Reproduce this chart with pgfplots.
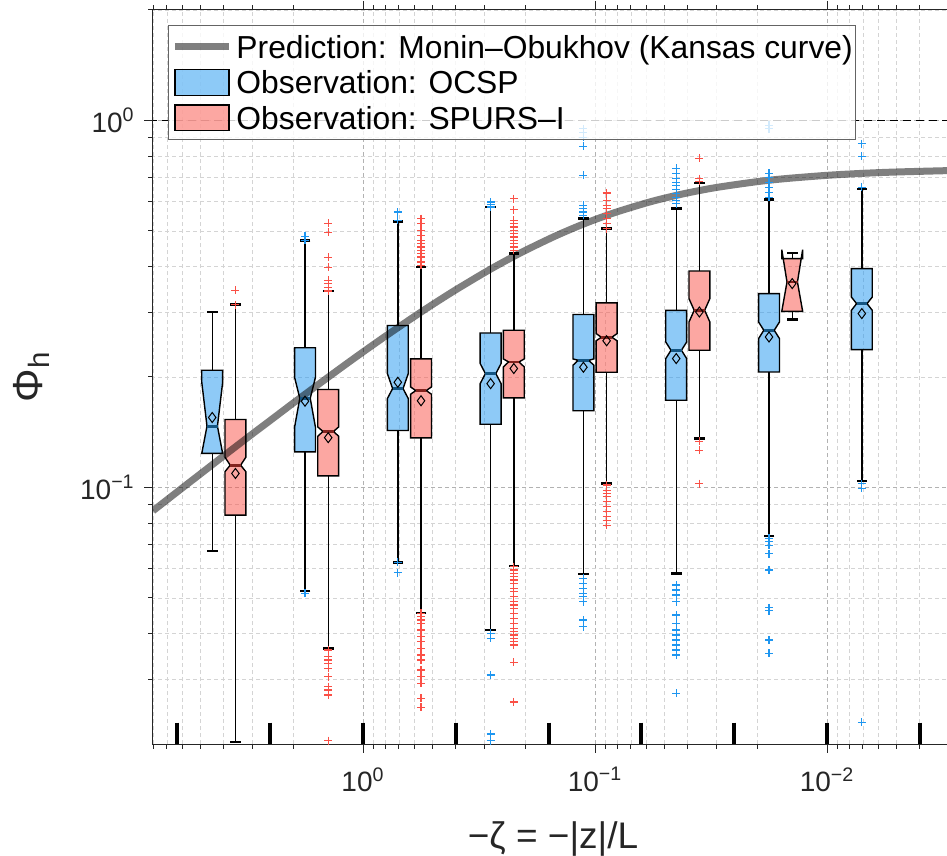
\documentclass[border=0pt]{standalone}
\usepackage{fontspec}
\setmainfont{Liberation Sans}
\usepackage{pgfplots}
\pgfplotsset{compat=1.18}
\usetikzlibrary{plotmarks}
\definecolor{ocsp}{RGB}{30,150,240}
\definecolor{spurs}{RGB}{250,80,70}
\definecolor{ocspdark}{RGB}{20,85,130}
\definecolor{spursdark}{RGB}{130,35,30}
\definecolor{axgray}{RGB}{38,38,38}
\definecolor{legedge}{RGB}{100,100,100}
\pgfplotsset{
  whisk/.style={black, line width=0.7pt, forget plot},
  boxO/.style={draw=black, line width=0.7pt, fill=ocsp, fill opacity=0.5, forget plot},
  boxS/.style={draw=black, line width=0.7pt, fill=spurs, fill opacity=0.5, forget plot},
}
\begin{document}
\begin{tikzpicture}
\useasboundingbox (-76.5pt,-56pt) rectangle (397pt,372pt);
\begin{axis}[
  at={(0,0)}, anchor=south west,
  scale only axis, width=400pt, height=367pt,
  xmode=log, ymode=log, x dir=reverse,
  xmin=0.002864, xmax=8.04, ymin=0.02, ymax=2,
  axis line style={draw=axgray, line width=0.5pt},
  every tick/.style={axgray, line width=0.5pt},
  tick align=outside,
  major tick length=4.5pt, minor tick length=2.5pt,
  xtick={0.01,0.1,1},
  xticklabels={10\textsuperscript{−2},10\textsuperscript{−1},10\textsuperscript{0}},
  ytick={0.1,1},
  yticklabels={10\textsuperscript{−1},10\textsuperscript{0}},
  minor xtick={0.003,0.004,0.005,0.006,0.007,0.008,0.009,0.02,0.03,0.04,0.05,0.06,0.07,0.08,0.09,0.2,0.3,0.4,0.5,0.6,0.7,0.8,0.9,2,3,4,5,6,7,8},
  minor ytick={0.03,0.04,0.05,0.06,0.07,0.08,0.09,0.2,0.3,0.4,0.5,0.6,0.7,0.8,0.9,2},
  grid=both,
  major grid style={draw=black!30, dash pattern=on 2pt off 1.5pt, line width=0.4pt},
  minor grid style={draw=black!17, dash pattern=on 2pt off 1.5pt, line width=0.4pt},
  tick label style={font=\fontsize{14}{16}\selectfont, text=axgray, inner sep=0pt},
  xticklabel shift=7pt, yticklabel shift=4.5pt,
  xlabel={−ζ = −|z|/L},
  ylabel={Φ\textsubscript{h}},
  xlabel style={font=\fontsize{18.5}{20}\selectfont, text=axgray, at={(axis description cs:0.5,-0.1417)}, anchor=base},
  ylabel style={font=\fontsize{21}{24}\selectfont, text=axgray, at={(axis description cs:-0.1525,0.5)}, anchor=center},
  legend style={
    at={(axis description cs:0.01875,0.97956)}, anchor=north west,
    draw=legedge, line width=0.5pt,
    fill=white, fill opacity=0.8, draw opacity=1, text opacity=1,
    inner xsep=1.5pt, inner ysep=1.9pt,
    row sep=0.25pt, column sep=2pt,
    font=\fontsize{15.9}{18}\selectfont,
    nodes={inner sep=0pt, text height=14.5pt, text depth=3pt},
  },
  legend cell align=left,
]
% reference line at 1
\addplot[black, line width=0.7pt, dash pattern=on 4pt off 2.5pt, forget plot] coordinates {(0.002,1) (10,1)};

% whiskers OCSP (lower: cap to Q1, upper: Q3 to cap)
\addplot[whisk] coordinates {(4.4668,0.06720) (4.4668,0.1238)};
\addplot[whisk] coordinates {(4.4668,0.2086) (4.4668,0.3007)};
\addplot[whisk] coordinates {(1.7783,0.05230) (1.7783,0.1250)};
\addplot[whisk] coordinates {(1.7783,0.2402) (1.7783,0.4713)};
\addplot[whisk] coordinates {(0.70795,0.06249) (0.70795,0.1430)};
\addplot[whisk] coordinates {(0.70795,0.2763) (0.70795,0.5309)};
\addplot[whisk] coordinates {(0.28184,0.04088) (0.28184,0.1487)};
\addplot[whisk] coordinates {(0.28184,0.2636) (0.28184,0.5807)};
\addplot[whisk] coordinates {(0.112202,0.05807) (0.112202,0.1618)};
\addplot[whisk] coordinates {(0.112202,0.2960) (0.112202,0.5400)};
\addplot[whisk] coordinates {(0.044668,0.05833) (0.044668,0.1729)};
\addplot[whisk] coordinates {(0.044668,0.3039) (0.044668,0.5749)};
\addplot[whisk] coordinates {(0.017783,0.07383) (0.017783,0.2064)};
\addplot[whisk] coordinates {(0.017783,0.3374) (0.017783,0.6083)};
\addplot[whisk] coordinates {(0.0070795,0.1040) (0.0070795,0.2375)};
\addplot[whisk] coordinates {(0.0070795,0.3947) (0.0070795,0.6517)};
% whiskers SPURS
\addplot[whisk] coordinates {(3.5481,0.02022) (3.5481,0.08406)};
\addplot[whisk] coordinates {(3.5481,0.1532) (3.5481,0.3150)};
\addplot[whisk] coordinates {(1.4125,0.03645) (1.4125,0.1075)};
\addplot[whisk] coordinates {(1.4125,0.1849) (1.4125,0.3430)};
\addplot[whisk] coordinates {(0.56234,0.04556) (0.56234,0.1365)};
\addplot[whisk] coordinates {(0.56234,0.2240) (0.56234,0.3987)};
\addplot[whisk] coordinates {(0.22387,0.06117) (0.22387,0.1754)};
\addplot[whisk] coordinates {(0.22387,0.2681) (0.22387,0.4336)};
\addplot[whisk] coordinates {(0.089125,0.1025) (0.089125,0.2060)};
\addplot[whisk] coordinates {(0.089125,0.3185) (0.089125,0.5072)};
\addplot[whisk] coordinates {(0.035481,0.1360) (0.035481,0.2365)};
\addplot[whisk] coordinates {(0.035481,0.3888) (0.035481,0.6767)};
\addplot[whisk] coordinates {(0.014125,0.2867) (0.014125,0.3020)};
\addplot[whisk] coordinates {(0.014125,0.4202) (0.014125,0.4352)};

% notched boxes OCSP
\addplot[boxO] coordinates {(4.9545,0.1238) (4.7044,0.1469) (4.9545,0.1935) (4.9545,0.2086) (4.0272,0.2086) (4.0272,0.1935) (4.2413,0.1469) (4.0272,0.1238)} --cycle;
\addplot[boxO] coordinates {(1.9724,0.1250) (1.9724,0.1459) (1.8728,0.1750) (1.9724,0.1997) (1.9724,0.2402) (1.6032,0.2402) (1.6032,0.1997) (1.6885,0.1750) (1.6032,0.1459) (1.6032,0.1250)} --cycle;
\addplot[boxO] coordinates {(0.78523,0.1430) (0.78523,0.1747) (0.74559,0.1860) (0.78523,0.2043) (0.78523,0.2763) (0.63826,0.2763) (0.63826,0.2043) (0.67220,0.1860) (0.63826,0.1747) (0.63826,0.1430)} --cycle;
\addplot[boxO] coordinates {(0.31261,0.1487) (0.31261,0.1919) (0.29683,0.2043) (0.31261,0.2176) (0.31261,0.2636) (0.25410,0.2636) (0.25410,0.2176) (0.26761,0.2043) (0.25410,0.1919) (0.25410,0.1487)} --cycle;
\addplot[boxO] coordinates {(0.124451,0.1618) (0.124451,0.2153) (0.118168,0.2221) (0.124451,0.2240) (0.124451,0.2960) (0.101158,0.2960) (0.101158,0.2240) (0.106537,0.2221) (0.101158,0.2153) (0.101158,0.1618)} --cycle;
\addplot[boxO] coordinates {(0.049545,0.1729) (0.049545,0.2245) (0.047044,0.2365) (0.049545,0.2491) (0.049545,0.3039) (0.040272,0.3039) (0.040272,0.2491) (0.042413,0.2365) (0.040272,0.2245) (0.040272,0.1729)} --cycle;
\addplot[boxO] coordinates {(0.019724,0.2064) (0.019724,0.2545) (0.018728,0.2681) (0.019724,0.2824) (0.019724,0.3374) (0.016032,0.3374) (0.016032,0.2824) (0.016885,0.2681) (0.016032,0.2545) (0.016032,0.2064)} --cycle;
\addplot[boxO] coordinates {(0.0078523,0.2375) (0.0078523,0.3039) (0.0074559,0.3169) (0.0078523,0.3303) (0.0078523,0.3947) (0.0063826,0.3947) (0.0063826,0.3303) (0.0067220,0.3169) (0.0063826,0.3039) (0.0063826,0.2375)} --cycle;
% notched boxes SPURS
\addplot[boxS] coordinates {(3.9355,0.08406) (3.9355,0.1104) (3.7368,0.1150) (3.9355,0.1209) (3.9355,0.1532) (3.1989,0.1532) (3.1989,0.1209) (3.3690,0.1150) (3.1989,0.1104) (3.1989,0.08406)} --cycle;
\addplot[boxS] coordinates {(1.5667,0.1075) (1.5667,0.1379) (1.4876,0.1421) (1.5667,0.1462) (1.5667,0.1849) (1.2735,0.1849) (1.2735,0.1462) (1.3412,0.1421) (1.2735,0.1379) (1.2735,0.1075)} --cycle;
\addplot[boxS] coordinates {(0.62373,0.1365) (0.62373,0.1795) (0.59224,0.1837) (0.62373,0.1879) (0.62373,0.2240) (0.50699,0.2240) (0.50699,0.1879) (0.53395,0.1837) (0.50699,0.1795) (0.50699,0.1365)} --cycle;
\addplot[boxS] coordinates {(0.24831,0.1754) (0.24831,0.2130) (0.23578,0.2198) (0.24831,0.2240) (0.24831,0.2681) (0.20184,0.2681) (0.20184,0.2240) (0.21257,0.2198) (0.20184,0.2130) (0.20184,0.1754)} --cycle;
\addplot[boxS] coordinates {(0.098855,0.2060) (0.098855,0.2510) (0.093864,0.2566) (0.098855,0.2626) (0.098855,0.3185) (0.080353,0.3185) (0.080353,0.2626) (0.084625,0.2566) (0.080353,0.2510) (0.080353,0.2060)} --cycle;
\addplot[boxS] coordinates {(0.039355,0.2365) (0.039355,0.2824) (0.037368,0.3039) (0.039355,0.3270) (0.039355,0.3888) (0.031989,0.3888) (0.031989,0.3270) (0.033690,0.3039) (0.031989,0.2824) (0.031989,0.2365)} --cycle;
\addplot[boxS] coordinates {(0.015667,0.3020) (0.014876,0.3629) (0.015667,0.4446) (0.015667,0.4202) (0.012735,0.4202) (0.012735,0.4446) (0.013412,0.3629) (0.012735,0.3020)} --cycle;

% medians
\addplot[only marks, mark=-, mark size=2.65pt, mark options={draw=ocspdark, line width=1.4pt}, forget plot] coordinates {(4.4668,0.1469) (1.7783,0.1750) (0.70795,0.1860) (0.28184,0.2043) (0.112202,0.2221) (0.044668,0.2365) (0.017783,0.2681) (0.0070795,0.3169)};
\addplot[only marks, mark=-, mark size=2.65pt, mark options={draw=spursdark, line width=1.4pt}, forget plot] coordinates {(3.5481,0.1150) (1.4125,0.1421) (0.56234,0.1837) (0.22387,0.2198) (0.089125,0.2566) (0.035481,0.3039) (0.014125,0.3629)};

% whisker caps
\addplot[only marks, mark=-, mark size=2.65pt, mark options={draw=black, line width=1.2pt}, forget plot] coordinates {
(4.4668,0.06720) (4.4668,0.3007) (1.7783,0.05230) (1.7783,0.4713) (0.70795,0.06249) (0.70795,0.5309) (0.28184,0.04088) (0.28184,0.5807)
(0.112202,0.05807) (0.112202,0.5400) (0.044668,0.05833) (0.044668,0.5749) (0.017783,0.07383) (0.017783,0.6083) (0.0070795,0.1040) (0.0070795,0.6517)
(3.5481,0.02022) (3.5481,0.3150) (1.4125,0.03645) (1.4125,0.3430) (0.56234,0.04556) (0.56234,0.3987) (0.22387,0.06117) (0.22387,0.4336)
(0.089125,0.1025) (0.089125,0.5072) (0.035481,0.1360) (0.035481,0.6767) (0.014125,0.2867) (0.014125,0.4352)};

% means
\addplot[only marks, mark=diamond, mark size=2.5pt, mark options={draw=black, line width=0.5pt, fill=none}, forget plot] coordinates {
(4.4668,0.1551) (1.7783,0.1718) (0.70795,0.1935) (0.28184,0.1919) (0.112202,0.2126) (0.044668,0.2245) (0.017783,0.2570) (0.0070795,0.2977)
(3.5481,0.1092) (1.4125,0.1367) (0.56234,0.1723) (0.22387,0.2109) (0.089125,0.2510) (0.035481,0.3007) (0.014125,0.3593)};

% outliers OCSP
\addplot[only marks, mark=+, mark size=2pt, mark options={draw=ocsp, line width=0.6pt}, forget plot] coordinates {
(1.7783,0.4833) (1.7783,0.4713) (1.7783,0.05145)
(0.70795,0.5628) (0.70795,0.5343) (0.70795,0.0625) (0.70795,0.05855)
(0.28184,0.5992) (0.28184,0.5906) (0.28184,0.5807) (0.28184,0.04004) (0.28184,0.03881) (0.28184,0.03083) (0.28184,0.02130) (0.28184,0.02042)
(0.112202,0.9493) (0.112202,0.9293) (0.112202,0.9007) (0.112202,0.8512) (0.112202,0.7084) (0.112202,0.5869) (0.112202,0.5749) (0.112202,0.5628) (0.112202,0.5513)
(0.112202,0.05653) (0.112202,0.05478) (0.112202,0.05309) (0.112202,0.05145) (0.112202,0.05037) (0.112202,0.04881) (0.112202,0.04352) (0.112202,0.04173)
(0.044668,0.7415) (0.044668,0.7160) (0.044668,0.6952) (0.044668,0.6780) (0.044668,0.6654) (0.044668,0.6489) (0.044668,0.6316) (0.044668,0.6183) (0.044668,0.6056) (0.044668,0.5932)
(0.044668,0.05420) (0.044668,0.05253) (0.044668,0.05091) (0.044668,0.04881) (0.044668,0.04491) (0.044668,0.04263) (0.044668,0.04088) (0.044668,0.03962) (0.044668,0.03840) (0.044668,0.03721) (0.044668,0.03606) (0.044668,0.03495) (0.044668,0.02749)
(0.017783,0.9692) (0.017783,0.9493) (0.017783,0.7187) (0.017783,0.7009) (0.017783,0.6793) (0.017783,0.6583) (0.017783,0.6380) (0.017783,0.6183)
(0.017783,0.07264) (0.017783,0.07111) (0.017783,0.06965) (0.017783,0.06598) (0.017783,0.05955) (0.017783,0.04701) (0.017783,0.04614) (0.017783,0.03840) (0.017783,0.03532)
(0.0070795,0.8641) (0.0070795,0.7980) (0.0070795,0.6583) (0.0070795,0.1025) (0.0070795,0.09937) (0.0070795,0.02292)};

% outliers SPURS
\addplot[only marks, mark=+, mark size=2pt, mark options={draw=spurs, line width=0.6pt}, forget plot] coordinates {
(3.5481,0.3445) (3.5481,0.3150)
(1.4125,0.5243) (1.4125,0.4956) (1.4125,0.4237) (1.4125,0.3979) (1.4125,0.3668) (1.4125,0.3600) (1.4125,0.3510) (1.4125,0.3430)
(1.4125,0.03606) (1.4125,0.03458) (1.4125,0.03387) (1.4125,0.03318) (1.4125,0.03215) (1.4125,0.03050) (1.4125,0.02865) (1.4125,0.02806) (1.4125,0.02720) (1.4125,0.02042)
(0.56234,0.5400) (0.56234,0.5233) (0.56234,0.5018) (0.56234,0.4863) (0.56234,0.4713) (0.56234,0.4625) (0.56234,0.4519) (0.56234,0.4427) (0.56234,0.4344) (0.56234,0.4245) (0.56234,0.4114) (0.56234,0.4030)
(0.56234,0.04539) (0.56234,0.04443) (0.56234,0.04352) (0.56234,0.04263) (0.56234,0.04088) (0.56234,0.03920) (0.56234,0.03799) (0.56234,0.03645) (0.56234,0.03495) (0.56234,0.03387) (0.56234,0.03181) (0.56234,0.03050) (0.56234,0.02927) (0.56234,0.02664) (0.56234,0.02518)
(0.22387,0.6121) (0.22387,0.5712) (0.22387,0.5343) (0.22387,0.5233) (0.22387,0.5123) (0.22387,0.5018) (0.22387,0.4915) (0.22387,0.4812) (0.22387,0.4713) (0.22387,0.4617) (0.22387,0.4519) (0.22387,0.4427)
(0.22387,0.06079) (0.22387,0.05955) (0.22387,0.05833) (0.22387,0.05710) (0.22387,0.05593) (0.22387,0.05478) (0.22387,0.05309) (0.22387,0.05197) (0.22387,0.05037) (0.22387,0.04881) (0.22387,0.04781) (0.22387,0.04683)
(0.22387,0.04539) (0.22387,0.04399) (0.22387,0.04263) (0.22387,0.04132) (0.22387,0.04045) (0.22387,0.03962) (0.22387,0.03881) (0.22387,0.03799) (0.22387,0.03721) (0.22387,0.03339) (0.22387,0.02603)
(0.089125,0.6340) (0.089125,0.6056) (0.089125,0.5869) (0.089125,0.5749) (0.089125,0.5572) (0.089125,0.5400) (0.089125,0.5233) (0.089125,0.5072)
(0.089125,0.1015) (0.089125,0.09832) (0.089125,0.09631) (0.089125,0.09428) (0.089125,0.09137) (0.089125,0.08855) (0.089125,0.08582) (0.089125,0.08317) (0.089125,0.08147) (0.089125,0.07895)
(0.035481,0.7896) (0.035481,0.6939) (0.035481,0.6823) (0.035481,0.1337) (0.035481,0.1263) (0.035481,0.1025)};

% Kansas curve prediction
\addplot[black, opacity=0.5, line width=3.5pt, smooth, forget plot] coordinates {
(8.04,0.0864) (6,0.0998) (5,0.1091) (4,0.1217) (3,0.1399) (2.5,0.1526) (2,0.1698) (1.5,0.1943) (1.2,0.2154) (1,0.2340) (0.8,0.2584) (0.6,0.2925) (0.5,0.3155) (0.4,0.3450) (0.3,0.3847) (0.25,0.4105) (0.2,0.4422) (0.15,0.4827) (0.12,0.5131) (0.1,0.5369) (0.08,0.5642) (0.06,0.5963) (0.05,0.6145) (0.04,0.6345) (0.03,0.6567) (0.02,0.6812) (0.015,0.6946) (0.01,0.7088) (0.007,0.7177) (0.005,0.7239) (0.0028,0.7309)};

% bin edges (rug)
\addplot[only marks, mark=|, mark size=5.33pt, mark options={draw=black, line width=2pt}, forget plot] coordinates {
(6.30957,0.02138) (2.51189,0.02138) (1,0.02138) (0.398107,0.02138) (0.158489,0.02138) (0.0630957,0.02138) (0.0251189,0.02138) (0.01,0.02138) (0.00398107,0.02138)};

% legend
\addlegendimage{legend image code/.code={\draw[black, opacity=0.5, line width=3.5pt] (0pt,0pt) -- (27pt,0pt);}}
\addlegendentry{Prediction: Monin–Obukhov (Kansas curve)\hspace{2.5pt}}
\addlegendimage{legend image code/.code={\draw[black, line width=0.6pt, fill=ocsp, fill opacity=0.5] (0pt,-6.4pt) rectangle (27pt,6.4pt);}}
\addlegendentry{Observation: OCSP}
\addlegendimage{legend image code/.code={\draw[black, line width=0.6pt, fill=spurs, fill opacity=0.5] (0pt,-6.4pt) rectangle (27pt,6.4pt);}}
\addlegendentry{Observation: SPURS–I}
\end{axis}
\end{tikzpicture}
\end{document}
